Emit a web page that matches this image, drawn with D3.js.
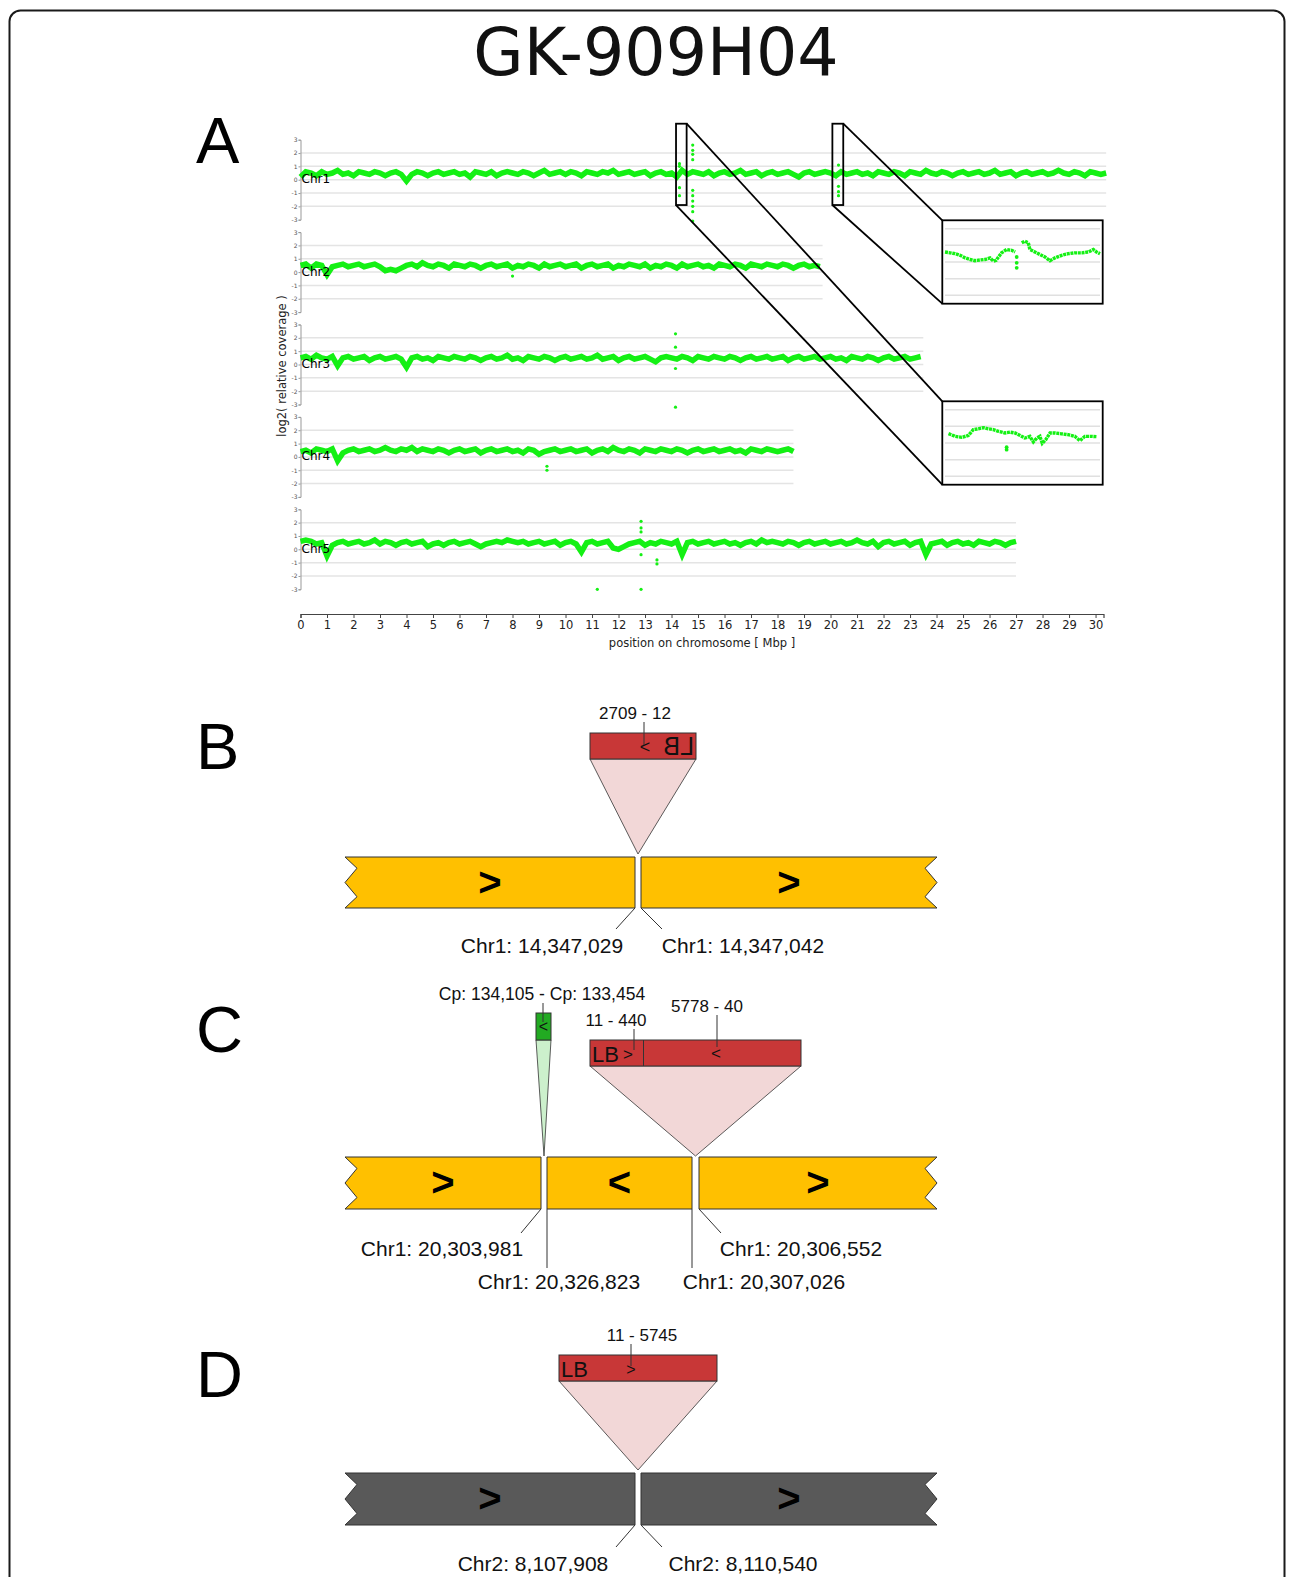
<!DOCTYPE html>
<html>
<head>
<meta charset="utf-8">
<script src="https://cdn.jsdelivr.net/npm/d3@7/dist/d3.min.js"></script>
<style>
  body { margin: 0; background: #fff; }
  svg { display: block; }
</style>
</head>
<body>
<svg id="fig" width="1295" height="1577"></svg>
<script>
// ---- panel A data: log2 relative coverage, one value every 0.2 Mbp ----
const chromosomes = ['Chr1', 'Chr2', 'Chr3', 'Chr4', 'Chr5'];
const chrLengths = [30.4, 19.7, 23.5, 18.6, 27.0];
const binStep = 0.2;

const chr1Cov = [
  0.2,0.6,0.5,0.3,0.6,0.4,0.5,0.7,0.4,0.5, 0.3,0.6,0.5,0.4,0.6,0.5,0.3,0.5,0.6,0.4,
  -0.1,0.4,0.6,0.5,0.3,0.5,0.6,0.4,0.5,0.6, 0.4,0.5,0.2,0.6,0.5,0.4,0.6,0.3,0.5,0.6,
  0.5,0.4,0.6,0.5,0.3,0.5,0.7,0.4,0.5,0.6, 0.4,0.6,0.5,0.3,0.6,0.5,0.4,0.6,0.5,0.7,
  0.4,0.5,0.6,0.4,0.5,0.6,0.3,0.5,0.6,0.4, 0.5,0.2,0.7,0.4,0.6,0.5,0.4,0.6,0.3,0.5,
  0.6,0.4,0.5,0.7,0.4,0.5,0.6,0.3,0.5,0.6, 0.4,0.5,0.6,0.4,0.2,0.5,0.6,0.4,0.5,0.6,
  0.5,0.3,0.6,0.4,0.5,0.6,0.4,0.5,0.3,0.6, 0.5,0.4,0.6,0.5,0.3,0.6,0.5,0.4,0.7,0.5,
  0.4,0.6,0.5,0.3,0.5,0.6,0.4,0.5,0.6,0.4, 0.5,0.7,0.4,0.5,0.6,0.3,0.5,0.6,0.4,0.5,
  0.6,0.4,0.5,0.7,0.5,0.4,0.6,0.5,0.3,0.6, 0.5,0.4,0.5
];
const chr2Cov = [
  0.5,0.6,0.3,0.6,0.5,-0.2,0.4,0.5,0.6,0.4, 0.5,0.6,0.4,0.5,0.6,0.4,0.1,0.2,0.1,0.3,
  0.5,0.6,0.4,0.7,0.5,0.4,0.6,0.5,0.3,0.6, 0.5,0.4,0.6,0.5,0.3,0.5,0.6,0.4,0.5,0.6,
  0.3,0.5,0.4,0.6,0.5,0.3,0.6,0.4,0.5,0.6, 0.4,0.5,0.6,0.3,0.5,0.6,0.4,0.5,0.6,0.3,
  0.5,0.4,0.6,0.5,0.4,0.6,0.3,0.5,0.4,0.6, 0.5,0.3,0.6,0.4,0.5,0.6,0.4,0.5,0.3,0.6,
  0.5,0.4,0.6,0.5,0.3,0.6,0.5,0.4,0.6,0.5, 0.4,0.6,0.5,0.3,0.5,0.6,0.4,0.5,0.4
];
const chr3Cov = [
  0.5,0.6,0.4,0.7,0.5,0.4,0.6,-0.1,0.5,0.6, 0.4,0.5,0.6,0.3,0.5,0.6,0.4,0.5,0.6,0.4,
  -0.2,0.5,0.6,0.4,0.5,0.3,0.6,0.5,0.4,0.6, 0.5,0.4,0.6,0.5,0.3,0.5,0.6,0.4,0.5,0.7,
  0.4,0.5,0.3,0.6,0.5,0.4,0.6,0.5,0.3,0.5, 0.6,0.4,0.5,0.6,0.4,0.5,0.7,0.4,0.5,0.6,
  0.3,0.5,0.6,0.4,0.5,0.6,0.4,0.2,0.5,0.6, 0.5,0.4,0.6,0.5,0.3,0.6,0.5,0.4,0.6,0.5,
  0.4,0.6,0.5,0.3,0.5,0.6,0.4,0.5,0.6,0.4, 0.5,0.6,0.3,0.5,0.6,0.4,0.5,0.6,0.4,0.5,
  0.6,0.4,0.5,0.3,0.6,0.5,0.4,0.6,0.5,0.3, 0.5,0.6,0.4,0.5,0.6,0.4,0.5,0.6
];
const chr4Cov = [
  0.4,0.5,0.3,0.6,0.5,0.4,0.6,-0.3,0.3,0.5, 0.6,0.4,0.5,0.6,0.4,0.5,0.7,0.5,0.4,0.6,
  0.5,0.7,0.4,0.6,0.5,0.4,0.6,0.5,0.3,0.5, 0.6,0.4,0.5,0.6,0.3,0.5,0.6,0.4,0.5,0.6,
  0.4,0.5,0.3,0.6,0.5,0.2,0.4,0.5,0.6,0.4, 0.5,0.6,0.4,0.5,0.6,0.3,0.5,0.6,0.4,0.7,
  0.5,0.4,0.6,0.5,0.3,0.6,0.5,0.4,0.6,0.5, 0.4,0.6,0.5,0.3,0.5,0.6,0.4,0.5,0.6,0.4,
  0.5,0.6,0.4,0.5,0.3,0.6,0.5,0.4,0.6,0.5, 0.4,0.5,0.6,0.4
];
const chr5Cov = [
  0.6,0.7,0.6,0.4,0.5,-0.5,0.3,0.5,0.6,0.4, 0.5,0.6,0.4,0.5,0.7,0.4,0.6,0.5,0.3,0.5,
  0.6,0.4,0.5,0.6,0.2,0.4,0.5,0.3,0.5,0.6, 0.4,0.5,0.6,0.4,0.2,0.4,0.5,0.6,0.5,0.7,
  0.6,0.5,0.6,0.4,0.5,0.6,0.4,0.5,0.6,0.3, 0.5,0.6,0.4,-0.2,0.5,0.6,0.4,0.5,0.6,0.1,
  0.0,0.2,0.4,0.5,0.6,0.3,0.5,0.4,0.6,0.5, 0.4,0.6,-0.4,0.5,0.6,0.4,0.5,0.6,0.4,0.5,
  0.6,0.4,0.5,0.3,0.5,0.6,0.4,0.7,0.5,0.6, 0.5,0.4,0.6,0.5,0.3,0.5,0.6,0.4,0.5,0.6,
  0.4,0.5,0.6,0.4,0.5,0.7,0.5,0.4,0.6,0.2, 0.5,0.6,0.4,0.5,0.6,0.3,0.5,0.6,-0.4,0.4,
  0.5,0.6,0.3,0.5,0.6,0.4,0.5,0.3,0.6,0.5, 0.4,0.6,0.5,0.3,0.5,0.6
];
const coverage = [chr1Cov, chr2Cov, chr3Cov, chr4Cov, chr5Cov];

// isolated outlier bins [Mbp, log2]
const chr1Outliers = [[14.3,1.2],[14.3,1.0],[14.3,-0.6],[14.3,-1.2],
  [14.8,2.6],[14.8,2.2],[14.8,1.9],[14.8,1.5],[14.8,-0.8],[14.8,-1.2],[14.8,-1.6],[14.8,-2.0],[14.8,-2.4],[14.8,-3.1],
  [20.3,1.1],[20.3,-0.5],[20.3,-0.9],[20.3,-1.2]];
const chr2Outliers = [[8.0,-0.3]];
const chr3Outliers = [[14.15,2.3],[14.15,1.3],[14.15,-0.3],[14.15,-3.2]];
const chr4Outliers = [[9.3,-0.7],[9.3,-1.0]];
const chr5Outliers = [[11.2,-3.0],[12.85,2.1],[12.85,1.6],[12.85,1.3],[12.85,-0.4],[12.85,-3.0],[13.45,-0.8],[13.45,-1.1]];
const outliers = [chr1Outliers, chr2Outliers, chr3Outliers, chr4Outliers, chr5Outliers];

const yTicks = [3, 2, 1, 0, -1, -2, -3];
const gridValues = [2, 1, 0, -1, -2];
const xTicks = [0,1,2,3,4,5,6,7,8,9,10,11,12,13,14,15,16,17,18,19,20,21,22,23,24,25,26,27,28,29,30];

// zoomed regions on Chr1 [start, end] Mbp
const zoomRegions = [[14.17, 14.57], [20.07, 20.48]];

// inset traces, kb from start of zoom region
const insetTopKb  = [0,13,26,39,52,65,77,90,103,116,125,132,138,146,159,172,181,191,198,206,215,219,232,245,258,271,284,301,318,335,353,370,383,391,400];
const insetTopVal = [0.6,0.55,0.5,0.4,0.25,0.15,0.08,0.12,0.15,0.25,0.05,0.1,0.3,0.55,0.75,0.7,0.6,null,1.15,1.25,1.15,0.75,0.6,0.45,0.3,0.08,0.25,0.4,0.5,0.55,0.55,0.6,0.75,0.6,0.5];
const insetTopOut = [[185,0.3],[185,-0.05],[185,-0.35]];
const insetLowKb  = [9,26,43,60,73,86,99,112,125,138,155,168,181,194,206,219,228,237,245,251,260,271,284,301,318,335,348,361,378,391];
const insetLowVal = [0.56,0.4,0.34,0.45,0.8,0.85,0.92,0.85,0.8,0.7,0.6,0.65,0.6,0.45,0.3,0.4,0.06,0.3,0.4,-0.02,0.2,0.6,0.6,0.55,0.5,0.4,0.14,0.4,0.4,0.38];
const insetLowOut = [[159,-0.25],[159,-0.4]];

// ---- panels B-D ----
const panelLetters = ['A', 'B', 'C', 'D'];
const bInsert = '2709 - 12';
const bJunctions = ['Chr1: 14,347,029', 'Chr1: 14,347,042'];
const bStrands = ['>', '>'];
const cInserts = ['Cp: 134,105 - Cp: 133,454', '11 - 440', '5778 - 40'];
const cJunctions = ['Chr1: 20,303,981', 'Chr1: 20,326,823', 'Chr1: 20,307,026', 'Chr1: 20,306,552'];
const cStrands = ['>', '<', '>'];
const dInsert = '11 - 5745';
const dJunctions = ['Chr2: 8,107,908', 'Chr2: 8,110,540'];
const dStrands = ['>', '>'];

const svg = d3.select('#fig');
const GREEN = '#14f014';
const SANS = 'Liberation Sans, Arial, sans-serif';
const DJV = 'DejaVu Sans, sans-serif';

// outer frame
svg.append('rect')
   .attr('x', 9.5).attr('y', 10.5)
   .attr('width', 1275).attr('height', 1620)
   .attr('rx', 11)
   .attr('fill', 'none')
   .attr('stroke', '#1a1a1a')
   .attr('stroke-width', 2);

svg.append('text')
   .attr('x', 656).attr('y', 75)
   .attr('text-anchor', 'middle')
   .attr('font-family', DJV)
   .attr('font-size', 65)
   .attr('fill', '#111')
   .text('GK-909H04');

const letterY = [163, 769, 1052, 1397];
panelLetters.forEach((l, i) => {
  svg.append('text')
     .attr('x', 196).attr('y', letterY[i])
     .attr('font-family', SANS)
     .attr('font-size', 65)
     .attr('fill', '#000')
     .text(l);
});

// ================= panel A =================
const x = d3.scaleLinear().domain([0, 30.3]).range([300.5, 1103.5]);
const panelTop = i => 139.7 + i * 92.4;
const yScales = chromosomes.map((c, i) =>
  d3.scaleLinear().domain([-3, 3]).range([panelTop(i) + 80, panelTop(i)]));

const chartA = svg.append('g').attr('class', 'coverage');

chromosomes.forEach((name, i) => {
  const y = yScales[i];
  const g = chartA.append('g');

  // grid
  g.selectAll('line.grid')
   .data(gridValues)
   .join('line')
   .attr('x1', x(0)).attr('x2', x(chrLengths[i]))
   .attr('y1', d => y(d)).attr('y2', d => y(d))
   .attr('stroke', '#e4e4e4')
   .attr('stroke-width', 1.5);

  // y axis
  const ax = g.append('g')
     .attr('transform', `translate(${x(0)},0)`)
     .call(d3.axisLeft(y).tickValues(yTicks).tickFormat(d => String(d)).tickSize(2).tickPadding(1));
  ax.select('.domain').attr('stroke', '#999');
  ax.selectAll('.tick line').attr('stroke', '#999');
  ax.selectAll('text').attr('font-size', 6).attr('font-family', DJV).attr('fill', '#555');

  // coverage trace
  const line = d3.line()
     .x((d, j) => x(j * binStep))
     .y(d => y(d));
  g.append('path')
   .attr('d', line(coverage[i]))
   .attr('fill', 'none')
   .attr('stroke', GREEN)
   .attr('stroke-width', 5.5)
   .attr('stroke-linejoin', 'miter');

  g.selectAll('circle')
   .data(outliers[i])
   .join('circle')
   .attr('cx', d => x(d[0]))
   .attr('cy', d => y(d[1]))
   .attr('r', 1.6)
   .attr('fill', GREEN);

  g.append('text')
   .attr('x', x(0) + 1)
   .attr('y', y(0) + 3.5)
   .attr('font-family', DJV)
   .attr('font-size', 12)
   .attr('fill', '#000')
   .text(name);
});

// x axis
const xAxisG = chartA.append('g')
   .attr('transform', 'translate(0,614)')
   .call(d3.axisBottom(x).tickValues(xTicks).tickSize(4).tickPadding(3));
xAxisG.select('.domain').attr('stroke', '#444').attr('stroke-width', 1.2);
xAxisG.selectAll('.tick line').attr('stroke', '#444');
xAxisG.selectAll('text').attr('font-size', 11.5).attr('font-family', DJV).attr('fill', '#222');

chartA.append('text')
   .attr('x', 702).attr('y', 647)
   .attr('text-anchor', 'middle')
   .attr('font-family', DJV)
   .attr('font-size', 11.5)
   .attr('fill', '#222')
   .text('position on chromosome [ Mbp ]');

chartA.append('text')
   .attr('transform', 'translate(286,366) rotate(-90)')
   .attr('text-anchor', 'middle')
   .attr('font-family', DJV)
   .attr('font-size', 11.5)
   .attr('fill', '#222')
   .text('log2( relative coverage )');

// zoom boxes on Chr1 and their insets
const yChr1 = yScales[0];
const boxTop = yChr1(4.2), boxBot = yChr1(-1.9);
const insets = [
  { region: zoomRegions[0], top: 401.3, kb: insetLowKb, val: insetLowVal, out: insetLowOut },
  { region: zoomRegions[1], top: 220.3, kb: insetTopKb, val: insetTopVal, out: insetTopOut }
];
const insetX0 = 942.3, insetX1 = 1102.7, insetH = 83.4;
const kbScale = d3.scaleLinear().domain([0, 400]).range([945, 1100]);

insets.forEach(ins => {
  const bx0 = x(ins.region[0]), bx1 = x(ins.region[1]);
  const iy = d3.scaleLinear().domain([-2.5, 2.5]).range([ins.top + insetH, ins.top]);
  const g = chartA.append('g');

  // connectors
  g.append('line')
   .attr('x1', bx1).attr('y1', boxTop).attr('x2', insetX0).attr('y2', ins.top)
   .attr('stroke', '#000').attr('stroke-width', 1.8);
  g.append('line')
   .attr('x1', bx0).attr('y1', boxBot).attr('x2', insetX0).attr('y2', ins.top + insetH)
   .attr('stroke', '#000').attr('stroke-width', 1.8);

  // region box
  g.append('rect')
   .attr('x', bx0).attr('y', boxTop)
   .attr('width', bx1 - bx0).attr('height', boxBot - boxTop)
   .attr('fill', 'none').attr('stroke', '#000').attr('stroke-width', 1.8);

  // inset frame
  g.append('rect')
   .attr('x', insetX0).attr('y', ins.top)
   .attr('width', insetX1 - insetX0).attr('height', insetH)
   .attr('fill', '#fff').attr('stroke', '#000').attr('stroke-width', 1.8);

  g.selectAll('line.igrid')
   .data(gridValues)
   .join('line')
   .attr('x1', 945).attr('x2', 1100)
   .attr('y1', d => iy(d)).attr('y2', d => iy(d))
   .attr('stroke', '#e0e0e0').attr('stroke-width', 1.5);

  const pts = ins.kb.map((k, j) => [k, ins.val[j]]);
  g.append('path')
   .attr('d', d3.line()
      .defined(d => d[1] !== null)
      .x(d => kbScale(d[0]))
      .y(d => iy(d[1]))(pts))
   .attr('fill', 'none')
   .attr('stroke', GREEN)
   .attr('stroke-width', 3.4)
   .attr('stroke-dasharray', '3,0.7');

  g.selectAll('circle')
   .data(ins.out)
   .join('circle')
   .attr('cx', d => kbScale(d[0]))
   .attr('cy', d => iy(d[1]))
   .attr('r', 1.9)
   .attr('fill', GREEN);
});

// ================= panels B-D =================
const YELLOW = '#ffc000', GREY = '#595959', RED = '#c83737', PINK = '#f2d7d7';

function ribbon(g, x0, x1, yT, h, fill, notchL, notchR, strand) {
  const d = 12;
  const pts = [[x0, yT], [x1, yT]];
  if (notchR) pts.push([x1 - d, yT + 0.22 * h], [x1, yT + 0.5 * h], [x1 - d, yT + 0.78 * h]);
  pts.push([x1, yT + h], [x0, yT + h]);
  if (notchL) pts.push([x0 + d, yT + 0.78 * h], [x0, yT + 0.5 * h], [x0 + d, yT + 0.22 * h]);
  g.append('path')
   .attr('d', d3.line()(pts) + 'Z')
   .attr('fill', fill)
   .attr('stroke', '#333')
   .attr('stroke-width', 1);
  g.append('text')
   .attr('x', (x0 + x1) / 2).attr('y', yT + h / 2 + 13)
   .attr('text-anchor', 'middle')
   .attr('font-family', SANS)
   .attr('font-size', 40)
   .attr('font-weight', 'bold')
   .attr('fill', '#000')
   .text(strand);
}

function leader(g, x1, y1, x2, y2) {
  g.append('line')
   .attr('x1', x1).attr('y1', y1).attr('x2', x2).attr('y2', y2)
   .attr('stroke', '#333').attr('stroke-width', 1);
}

function label(g, cx, y, txt, size) {
  g.append('text')
   .attr('x', cx).attr('y', y)
   .attr('text-anchor', 'middle')
   .attr('font-family', SANS)
   .attr('font-size', size)
   .attr('fill', '#111')
   .text(txt);
}

function insertion(g, bx0, bx1, by0, by1, ax, ay, fill, tri) {
  g.append('path')
   .attr('d', d3.line()([[bx0, by1], [bx1, by1], [ax, ay]]) + 'Z')
   .attr('fill', tri).attr('stroke', '#333').attr('stroke-width', 0.8);
  g.append('rect')
   .attr('x', bx0).attr('y', by0)
   .attr('width', bx1 - bx0).attr('height', by1 - by0)
   .attr('fill', fill).attr('stroke', '#333').attr('stroke-width', 1);
}

// ---- B ----
const gB = svg.append('g');
insertion(gB, 590, 696, 733, 759, 638, 854, RED, PINK);
const mirror = gB.append('g').attr('transform', `translate(${590 + 696},0) scale(-1,1)`);
mirror.append('text').attr('x', 592).attr('y', 755)
   .attr('font-family', SANS).attr('font-size', 25).attr('fill', '#111').text('LB');
mirror.append('text').attr('x', 641).attr('y', 753).attr('text-anchor', 'middle')
   .attr('font-family', SANS).attr('font-size', 18).attr('fill', '#111').text('>');
label(gB, 635, 719, bInsert, 17);
leader(gB, 644, 722, 644, 745);
ribbon(gB, 345, 635, 857, 51, YELLOW, true, false, bStrands[0]);
ribbon(gB, 641, 937, 857, 51, YELLOW, false, true, bStrands[1]);
leader(gB, 635, 908, 616, 929);
leader(gB, 641, 908, 662, 929);
label(gB, 542, 953, bJunctions[0], 21);
label(gB, 743, 953, bJunctions[1], 21);

// ---- C ----
const gC = svg.append('g');
insertion(gC, 536, 551, 1013, 1040, 544, 1156, '#22aa22', '#ccf0cc');
gC.append('text').attr('x', 543.5).attr('y', 1032).attr('text-anchor', 'middle')
   .attr('font-family', SANS).attr('font-size', 16).attr('fill', '#111').text('<');
insertion(gC, 590, 801, 1040, 1066, 695.5, 1156, RED, PINK);
leader(gC, 643.5, 1040, 643.5, 1066);
gC.append('text').attr('x', 592).attr('y', 1062)
   .attr('font-family', SANS).attr('font-size', 22).attr('fill', '#111').text('LB');
gC.append('text').attr('x', 628).attr('y', 1060).attr('text-anchor', 'middle')
   .attr('font-family', SANS).attr('font-size', 17).attr('fill', '#111').text('>');
gC.append('text').attr('x', 716).attr('y', 1059).attr('text-anchor', 'middle')
   .attr('font-family', SANS).attr('font-size', 17).attr('fill', '#111').text('<');
label(gC, 542, 1000, cInserts[0], 17.5);
leader(gC, 543, 1003, 543, 1022);
label(gC, 616, 1026, cInserts[1], 17);
leader(gC, 634, 1029, 634, 1050);
label(gC, 707, 1012, cInserts[2], 17);
leader(gC, 717, 1015, 717, 1047);
ribbon(gC, 345, 541, 1157, 52, YELLOW, true, false, cStrands[0]);
ribbon(gC, 547, 692, 1157, 52, YELLOW, false, false, cStrands[1]);
ribbon(gC, 699, 937, 1157, 52, YELLOW, false, true, cStrands[2]);
leader(gC, 541, 1209, 521, 1233);
leader(gC, 547, 1209, 547, 1268);
leader(gC, 692, 1209, 692, 1268);
leader(gC, 699, 1209, 721, 1233);
label(gC, 442, 1256, cJunctions[0], 21);
label(gC, 559, 1289, cJunctions[1], 21);
label(gC, 764, 1289, cJunctions[2], 21);
label(gC, 801, 1256, cJunctions[3], 21);

// ---- D ----
const gD = svg.append('g');
insertion(gD, 559, 717, 1355, 1381, 638, 1470, RED, PINK);
gD.append('text').attr('x', 561).attr('y', 1377)
   .attr('font-family', SANS).attr('font-size', 22).attr('fill', '#111').text('LB');
gD.append('text').attr('x', 631).attr('y', 1375).attr('text-anchor', 'middle')
   .attr('font-family', SANS).attr('font-size', 16).attr('fill', '#111').text('>');
label(gD, 642, 1341, dInsert, 17);
leader(gD, 631, 1344, 631, 1366);
ribbon(gD, 345, 635, 1473, 52, GREY, true, false, dStrands[0]);
ribbon(gD, 641, 937, 1473, 52, GREY, false, true, dStrands[1]);
leader(gD, 635, 1525, 616, 1547);
leader(gD, 641, 1525, 662, 1547);
label(gD, 533, 1571, dJunctions[0], 21);
label(gD, 743, 1571, dJunctions[1], 21);
</script>
</body>
</html>
